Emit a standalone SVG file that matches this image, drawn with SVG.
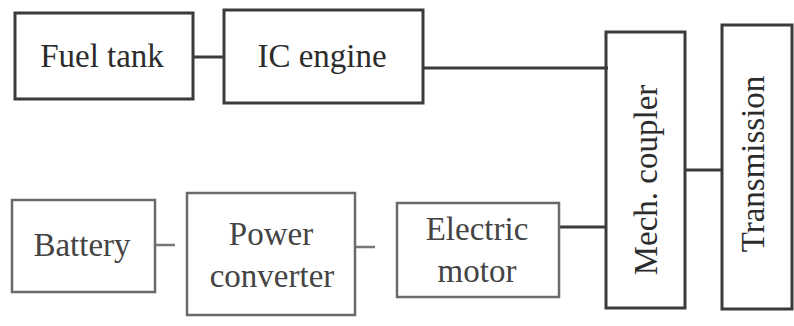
<svg xmlns="http://www.w3.org/2000/svg" width="794" height="326" viewBox="0 0 794 326">
<style>
.box{fill:none;stroke:#3a3a3a;stroke-width:3}
.faint{stroke:#6a6a6a;stroke-width:2.5}
.t{font-family:"Liberation Serif","Times New Roman",serif;font-size:33px;fill:#2c2c2c;text-anchor:middle}
.tf{fill:#444}
.c{stroke:#3a3a3a;stroke-width:3;fill:none}
.cf{stroke:#777;stroke-width:2.5;fill:none}
</style>
<rect width="794" height="326" fill="#ffffff"/>
<g id="connectors">
<line class="c" x1="193" y1="57" x2="224" y2="57"/>
<line class="c" x1="423" y1="68" x2="608" y2="68"/>
<line class="c" x1="559" y1="227" x2="606" y2="227"/>
<line class="c" x1="685" y1="170" x2="722" y2="170"/>
<line class="cf" x1="155" y1="245" x2="175" y2="245"/>
<line class="cf" x1="355" y1="247" x2="375" y2="247"/>
</g>
<g id="fuel-tank">
<rect class="box" x="15" y="13" width="178" height="86"/>
<text class="t" x="102" y="67">Fuel tank</text>
</g>
<g id="ic-engine">
<rect class="box" x="224" y="10" width="199" height="93"/>
<text class="t" x="322" y="67">IC engine</text>
</g>
<g id="mech-coupler">
<rect class="box" x="606" y="32" width="79" height="276"/>
<text class="t" transform="translate(657,180) rotate(-90)" x="0" y="0" font-size="34">Mech. coupler</text>
</g>
<g id="transmission">
<rect class="box" x="722" y="25" width="70" height="284"/>
<text class="t" transform="translate(764,164) rotate(-90)" x="0" y="0">Transmission</text>
</g>
<g id="battery">
<rect class="box faint" x="12" y="200" width="143" height="92"/>
<text class="t tf" x="82" y="256">Battery</text>
</g>
<g id="power-converter">
<rect class="box faint" x="187" y="193" width="168" height="122"/>
<text class="t tf" x="271" y="245" font-size="32">Power</text>
<text class="t tf" x="272" y="287" font-size="32">converter</text>
</g>
<g id="electric-motor">
<rect class="box faint" x="397" y="203" width="162" height="94"/>
<text class="t tf" x="477" y="240" font-size="32">Electric</text>
<text class="t tf" x="477" y="282" font-size="32">motor</text>
</g>
</svg>
